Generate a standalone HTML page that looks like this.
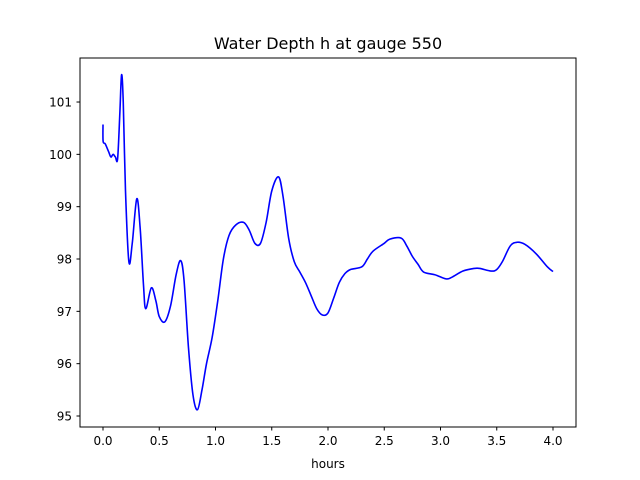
<!DOCTYPE html>
<html><head><meta charset="utf-8"><style>
body{margin:0;background:#fff}
svg{display:block;font-family:"DejaVu Sans","Liberation Sans",sans-serif}
</style></head><body>
<svg id="chart" width="640" height="480">
<rect x="0" y="0" width="640" height="480" fill="#fff"/>
<text x="328" y="49" text-anchor="middle" font-size="16">Water Depth h at gauge 550</text>
<g id="plot"></g>
<rect x="80" y="58" width="496" height="369" fill="none" stroke="#000" stroke-width="1"/>
<text x="328" y="468" text-anchor="middle" font-size="12">hours</text>
</svg>
<script>
const times=[0,0.001,0.02,0.05,0.07,0.09,0.11,0.13,0.15,0.165,0.18,0.2,0.23,0.26,0.3,0.33,0.36,0.38,0.43,0.47,0.5,0.55,0.6,0.65,0.69,0.72,0.76,0.8,0.84,0.88,0.92,0.97,1.02,1.07,1.12,1.18,1.25,1.3,1.35,1.4,1.45,1.5,1.56,1.6,1.65,1.7,1.75,1.8,1.85,1.9,1.95,2.0,2.05,2.1,2.15,2.2,2.3,2.35,2.4,2.5,2.55,2.65,2.7,2.75,2.8,2.85,2.95,3.05,3.1,3.2,3.3,3.35,3.45,3.5,3.55,3.62,3.68,3.75,3.85,3.95,4.0];
const depth=[100.57,100.25,100.2,100.05,99.95,100.0,99.95,99.92,100.8,101.52,101.0,99.3,97.95,98.3,99.15,98.6,97.5,97.05,97.45,97.2,96.9,96.8,97.1,97.7,97.97,97.6,96.3,95.4,95.12,95.5,96.0,96.5,97.2,98.0,98.45,98.65,98.7,98.55,98.3,98.3,98.7,99.3,99.57,99.2,98.4,97.95,97.75,97.55,97.3,97.05,96.93,96.97,97.25,97.55,97.72,97.8,97.85,98.0,98.15,98.3,98.38,98.4,98.25,98.05,97.9,97.75,97.7,97.62,97.65,97.77,97.82,97.82,97.77,97.8,97.95,98.25,98.32,98.28,98.1,97.85,97.76];
const xTicks=[0,0.5,1,1.5,2,2.5,3,3.5,4];
const xTickLabels=["0.0","0.5","1.0","1.5","2.0","2.5","3.0","3.5","4.0"];
const yTicks=[95,96,97,98,99,100,101];
const yTickLabels=["95","96","97","98","99","100","101"];
const NS="http://www.w3.org/2000/svg";
const x=v=>103+v*112.5;
const y=v=>416-(v-95)*52.33;
const g=document.getElementById('plot');
function mk(t,a){const e=document.createElementNS(NS,t);for(const k in a)e.setAttribute(k,a[k]);return e;}
xTicks.forEach((t,i)=>{
  const l=mk('line',{x1:x(t),x2:x(t),y1:427,y2:430.5,stroke:'#000'});
  
  
  g.appendChild(l);
  const tx=mk('text',{x:x(t),y:445,'text-anchor':'middle','font-size':12});
  
  
  tx.textContent=xTickLabels[i];g.appendChild(tx);
});
yTicks.forEach((t,i)=>{
  const l=mk('line',{x1:76.5,x2:80,y1:y(t),y2:y(t),stroke:'#000'});
  
  
  g.appendChild(l);
  const tx=mk('text',{x:72,y:y(t)+4.5,'text-anchor':'end','font-size':12});
  
  
  tx.textContent=yTickLabels[i];g.appendChild(tx);
});
const pts=times.map((t,i)=>[x(t),y(depth[i])]);
let d='M'+pts[0][0]+','+pts[0][1];
for(let i=0;i<pts.length-1;i++){
  const p0=pts[Math.max(i-1,0)],p1=pts[i],p2=pts[i+1],p3=pts[Math.min(i+2,pts.length-1)];
  const c1=[p1[0]+(p2[0]-p0[0])/6,p1[1]+(p2[1]-p0[1])/6];
  const c2=[p2[0]-(p3[0]-p1[0])/6,p2[1]-(p3[1]-p1[1])/6];
  d+=` C${c1[0]},${c1[1]} ${c2[0]},${c2[1]} ${p2[0]},${p2[1]}`;
}
const path=mk('path',{d:d,fill:'none',stroke:'#0000ff','stroke-width':1.6,'stroke-linejoin':'round'});


g.appendChild(path);
</script>
</body></html>
